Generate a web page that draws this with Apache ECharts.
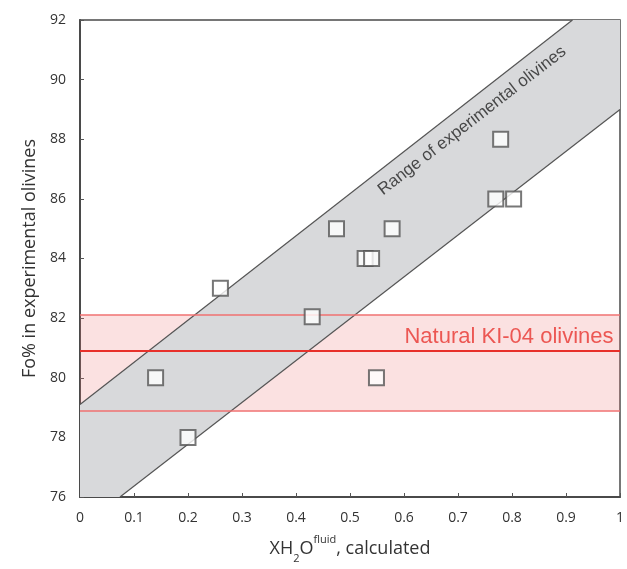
<!DOCTYPE html>
<html>
<head>
<meta charset="utf-8">
<script src="https://cdn.jsdelivr.net/npm/echarts@6/dist/echarts.min.js"></script>
<style>html,body{margin:0;padding:0;background:#fff}#c{width:627px;height:569px}</style>
</head>
<body>
<div id="c"></div>
<script>
// Data
var xTicks = [0, 0.1, 0.2, 0.3, 0.4, 0.5, 0.6, 0.7, 0.8, 0.9, 1];
var yTicks = [76, 78, 80, 82, 84, 86, 88, 90, 92];
var pointsX = [0.14, 0.20, 0.26, 0.43, 0.475, 0.528, 0.54, 0.549, 0.578, 0.77, 0.779, 0.803];
var pointsY = [80, 78, 83, 82.05, 85, 84, 84, 80, 85, 86, 88, 86];
var upperLineX = [0, 0.912];
var upperLineY = [79.1, 92];
var lowerLineX = [0.074, 1];
var lowerLineY = [76, 89];
var naturalLow = 78.9, naturalMid = 80.9, naturalHigh = 82.1;
var rangeLabel = 'Range of experimental olivines';
var naturalLabel = 'Natural KI-04 olivines';

var FONT = '"Open Sans", "DejaVu Sans", sans-serif';
var ARIAL = '"Liberation Sans", Arial, sans-serif';
var pts = pointsX.map(function (x, i) { return [x, pointsY[i]]; });
var band = [
  [0, 76], [upperLineX[0], upperLineY[0]], [upperLineX[1], upperLineY[1]],
  [1, 92], [lowerLineX[1], lowerLineY[1]], [lowerLineX[0], lowerLineY[0]]
];

var chart = echarts.init(document.getElementById('c'));
chart.setOption({
  animation: false,
  grid: { left: 80, right: 4, top: 20, bottom: 72, show: true, borderColor: '#4a4a4a', borderWidth: 1.5 },
  xAxis: {
    type: 'value', min: 0, max: 1, interval: 0.1,
    axisLine: { lineStyle: { color: '#4a4a4a', width: 2 } },
    axisTick: { inside: true, length: 4, lineStyle: { color: '#555' } },
    splitLine: { show: false },
    axisLabel: { color: '#333', fontFamily: FONT, fontSize: 14, margin: 14 },
    name: '{a|XH}{s|2}{a|O}{p|fluid}{a|, calculated}',
    nameLocation: 'middle', nameGap: 37,
    nameTextStyle: {
      color: '#333', fontFamily: FONT, fontSize: 18,
      rich: {
        a: { fontFamily: FONT, fontSize: 18, color: '#333', lineHeight: 26 },
        s: { fontFamily: FONT, fontSize: 11, color: '#333', verticalAlign: 'bottom', lineHeight: 20 },
        p: { fontFamily: FONT, fontSize: 11, color: '#333', verticalAlign: 'top', lineHeight: 30 }
      }
    }
  },
  yAxis: {
    type: 'value', min: 76, max: 92, interval: 2,
    axisLine: { show: true, lineStyle: { color: '#4a4a4a', width: 2 } },
    axisTick: { show: true, inside: true, length: 4, lineStyle: { color: '#555' } },
    splitLine: { show: false },
    axisLabel: { color: '#333', fontFamily: FONT, fontSize: 14, margin: 14 },
    name: 'Fo% in experimental olivines',
    nameLocation: 'middle', nameGap: 40,
    nameTextStyle: { color: '#333', fontFamily: FONT, fontSize: 18 }
  },
  series: [
    {
      type: 'custom', z: 1, silent: true,
      data: [0],
      renderItem: function (params, api) {
        var p = band.map(function (d) { return api.coord(d); });
        return { type: 'polygon', shape: { points: p }, style: { fill: '#d8d9db' } };
      }
    },
    {
      type: 'line', z: 3, symbol: 'none', silent: true,
      data: [[upperLineX[0], upperLineY[0]], [upperLineX[1], upperLineY[1]]],
      lineStyle: { color: '#555', width: 1.2 }
    },
    {
      type: 'line', z: 3, symbol: 'none', silent: true,
      data: [[lowerLineX[0], lowerLineY[0]], [lowerLineX[1], lowerLineY[1]]],
      lineStyle: { color: '#555', width: 1.2 }
    },
    {
      type: 'line', z: 2, symbol: 'none', silent: true, data: [],
      markArea: {
        silent: true,
        itemStyle: { color: 'rgba(235,120,120,0.22)' },
        data: [[{ yAxis: naturalLow }, { yAxis: naturalHigh }]]
      },
      markLine: {
        silent: true, symbol: 'none', label: { show: false },
        data: [
          { yAxis: naturalLow, lineStyle: { color: '#f07070', width: 1.5, type: 'solid' } },
          { yAxis: naturalMid, lineStyle: { color: '#e8302a', width: 2, type: 'solid' } },
          { yAxis: naturalHigh, lineStyle: { color: '#f07070', width: 1.5, type: 'solid' } }
        ]
      }
    },
    {
      type: 'scatter', z: 5, symbol: 'rect', symbolSize: 15,
      data: pts,
      itemStyle: { color: '#ffffff', borderColor: '#555', borderWidth: 2 }
    },
    {
      type: 'scatter', z: 6, symbolSize: 1, silent: true,
      itemStyle: { color: 'rgba(0,0,0,0)' },
      data: [[0.726, 88.62]],
      label: {
        show: true, position: 'inside', formatter: rangeLabel, rotate: 37.7,
        align: 'center', verticalAlign: 'middle',
        color: '#222', fontFamily: ARIAL, fontSize: 17
      }
    },
    {
      type: 'scatter', z: 6, symbolSize: 1, silent: true,
      itemStyle: { color: 'rgba(0,0,0,0)' },
      data: [[0.988, 81.37]],
      label: {
        show: true, position: 'inside', formatter: naturalLabel,
        align: 'right', verticalAlign: 'middle',
        color: '#e8352f', fontFamily: ARIAL, fontSize: 22
      }
    }
  ]
});
</script>
</body>
</html>
